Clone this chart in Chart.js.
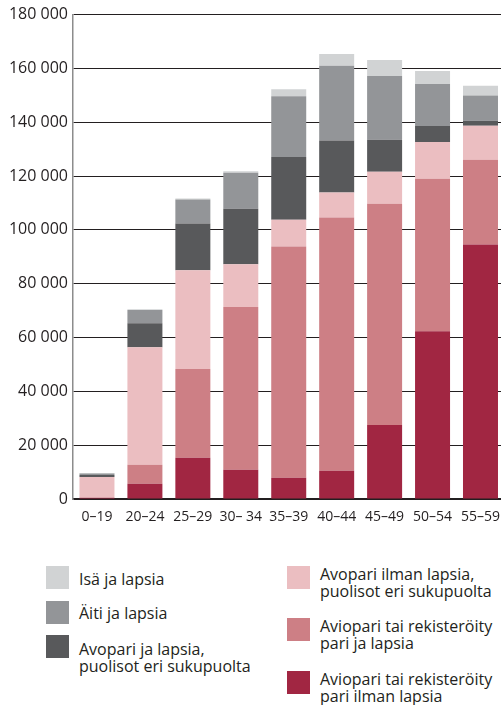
<!DOCTYPE html>
<html>
<head>
<meta charset="utf-8">
<script src="https://cdn.jsdelivr.net/npm/chart.js@4"></script>
<style>
    html, body { margin: 0; padding: 0; overflow: hidden; background: #fff; }
    body { width: 501px; height: 705px; position: relative; font-family: 'Open Sans', sans-serif; color: #231f20; }
    #chart-box { position: absolute; left: 0; top: 0; width: 510px; height: 535px; }
    .legend-swatch { position: absolute; width: 23px; height: 23px; }
    .legend-text { position: absolute; font-size: 16px; line-height: 17px; white-space: nowrap; }
</style>
</head>
<body>
<div id="chart-box"><canvas id="family-chart" width="510" height="535"></canvas></div>
<div id="legend"></div>
<script>
/*data*/
let ageGroups = ['0–19', '20–24', '25–29', '30– 34', '35–39', '40–44', '45–49', '50–54', '55–59'];

let aviopariIlmanLapsia = [500, 5700, 15300, 10900, 7900, 10500, 27500, 62300, 94600];
let aviopariJaLapsia = [0, 7000, 33000, 60400, 85900, 94100, 82200, 56700, 31500];
let avopariIlmanLapsia = [7700, 43700, 36700, 15900, 10000, 9300, 11900, 13700, 12600];
let avopariJaLapsia = [700, 8900, 17400, 20700, 23300, 19300, 11900, 5900, 1900];
let aitiJaLapsia = [600, 4900, 8900, 13300, 22600, 27800, 23700, 15600, 9300];
let isaJaLapsia = [200, 300, 400, 600, 2600, 4400, 5900, 4800, 3700];

let yTicks = [0, 20000, 40000, 60000, 80000, 100000, 120000, 140000, 160000, 180000];
/**/

let series = [
    { label: 'Aviopari tai rekisteröity\npari ilman lapsia', data: aviopariIlmanLapsia, color: '#a12642' },
    { label: 'Aviopari tai rekisteröity\npari ja lapsia', data: aviopariJaLapsia, color: '#cd7f85' },
    { label: 'Avopari ilman lapsia,\npuolisot eri sukupuolta', data: avopariIlmanLapsia, color: '#ebbec1' },
    { label: 'Avopari ja lapsia,\npuolisot eri sukupuolta', data: avopariJaLapsia, color: '#58595b' },
    { label: 'Äiti ja lapsia', data: aitiJaLapsia, color: '#939598' },
    { label: 'Isä ja lapsia', data: isaJaLapsia, color: '#d1d3d4' }
];

// legend: swatch spot and where its text starts
let legendPlaces = [
    { left: 287, top: 671, textLeft: 320, textTop: 671 },
    { left: 287, top: 618, textLeft: 320, textTop: 618 },
    { left: 287, top: 566, textLeft: 320, textTop: 566 },
    { left: 46, top: 635, textLeft: 79, textTop: 641 },
    { left: 46, top: 601, textLeft: 79, textTop: 605 },
    { left: 46, top: 566, textLeft: 79, textTop: 571 }
];

function formatThousands(value) {
    return String(value).replace(/\B(?=(\d{3})+(?!\d))/g, ' ');
}

function buildLegend() {
    let legend = document.getElementById('legend');
    series.forEach((s, i) => {
        let place = legendPlaces[i];

        let swatch = document.createElement('div');
        swatch.className = 'legend-swatch';
        swatch.style.left = place.left + 'px';
        swatch.style.top = place.top + 'px';
        swatch.style.background = s.color;

        let text = document.createElement('div');
        text.className = 'legend-text';
        text.style.left = place.textLeft + 'px';
        text.style.top = place.textTop + 'px';
        text.innerHTML = s.label.split('\n').join('<br>');

        legend.appendChild(swatch);
        legend.appendChild(text);
    });
}

window.onload = function() {
    let ctx = document.getElementById('family-chart');

    new Chart(ctx, {
        type: 'bar',
        data: {
            labels: ageGroups,
            datasets: series.map(s => ({
                label: s.label,
                data: s.data,
                backgroundColor: s.color,
                borderWidth: 0,
                categoryPercentage: 1,
                barPercentage: 0.73
            }))
        },
        options: {
            responsive: false,
            animation: false,
            layout: { padding: { top: 3, right: 0, left: 0, bottom: 0 } },
            plugins: {
                legend: { display: false },
                tooltip: { enabled: false }
            },
            scales: {
                x: {
                    stacked: true,
                    grid: { display: false, drawTicks: false },
                    border: { display: true, color: '#231f20', width: 1.5 },
                    ticks: {
                        color: '#231f20',
                        font: { family: 'Open Sans', size: 14 },
                        padding: 10,
                        maxRotation: 0
                    },
                    afterFit: function(scale) { scale.height = 36; }
                },
                y: {
                    stacked: true,
                    min: 0,
                    max: 180000,
                    afterBuildTicks: function(scale) {
                        scale.ticks = yTicks.map(v => ({ value: v }));
                    },
                    grid: { color: '#231f20', lineWidth: 1, drawTicks: false },
                    border: { display: true, color: '#8c8c8c', width: 1.5 },
                    ticks: {
                        color: '#231f20',
                        font: { family: 'Open Sans', size: 16 },
                        padding: 5,
                        callback: function(value) { return formatThousands(value); }
                    },
                    afterFit: function(scale) { scale.width = 73; }
                }
            }
        }
    });

    buildLegend();
};
</script>
</body>
</html>
